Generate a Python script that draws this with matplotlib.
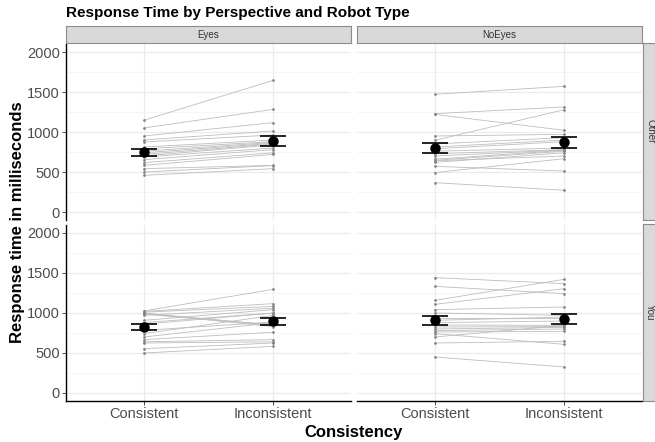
import matplotlib
matplotlib.use("Agg")
import numpy as np
from matplotlib import pyplot as plt

plt.rcParams['font.family'] = ['Liberation Sans', 'DejaVu Sans']

# Categories / facets
conditions = ["Consistent", "Inconsistent"]
robot_types = ["Eyes", "NoEyes"]
perspectives = ["Other", "You"]
y_ticks = [0, 500, 1000, 1500, 2000]

# Per-participant response times (ms)
eyes_other_cons = [1146, 1050, 950, 900, 875, 812, 790, 760, 740, 720, 700, 688, 654, 617, 583, 542, 500, 458]
eyes_other_inc = [1646, 1283, 1117, 1013, 963, 900, 880, 870, 860, 850, 840, 800, 780, 740, 720, 583, 580, 542]

noeyes_other_cons = [1471, 1229, 1220, 896, 950, 850, 812, 790, 760, 729, 700, 660, 646, 620, 571, 492, 367, 640]
noeyes_other_inc = [1571, 1313, 1021, 1279, 971, 930, 900, 880, 800, 780, 775, 771, 760, 740, 512, 667, 271, 700]

eyes_you_cons = [1025, 1020, 1010, 1000, 995, 985, 971, 908, 880, 783, 742, 700, 667, 640, 625, 554, 500, 860]
eyes_you_inc = [1296, 1117, 1083, 850, 830, 850, 1060, 1042, 1000, 888, 970, 880, 760, 667, 640, 625, 583, 1000]

noeyes_you_cons = [1442, 1333, 1158, 1108, 1042, 1000, 930, 908, 880, 850, 825, 800, 780, 763, 742, 700, 625, 450]
noeyes_you_inc = [1367, 1242, 1421, 1304, 1075, 971, 929, 950, 900, 846, 830, 820, 800, 771, 608, 846, 646, 325]

panels = {
    ("Other", "Eyes"): (eyes_other_cons, eyes_other_inc),
    ("Other", "NoEyes"): (noeyes_other_cons, noeyes_other_inc),
    ("You", "Eyes"): (eyes_you_cons, eyes_you_inc),
    ("You", "NoEyes"): (noeyes_you_cons, noeyes_you_inc),
}

W, H = 655, 442
fig = plt.figure(figsize=(W / 100, H / 100), dpi=100)

# panel boxes in pixels: (left, top, width, height)
col_left = [66, 357]
row_top = [44, 225]
pw, ph = 285, 176

strip_bg = "#D9D9D9"
strip_edge = "#8C8C8C"

for r, persp in enumerate(perspectives):
    for c, rtype in enumerate(robot_types):
        x0, y0 = col_left[c], row_top[r]
        ax = fig.add_axes([x0 / W, 1 - (y0 + ph) / H, pw / W, ph / H])
        cons, inc = panels[(persp, rtype)]
        xs = np.array([1, 2])

        # grid
        ax.set_yticks(y_ticks)
        ax.set_yticks([250, 750, 1250, 1750], minor=True)
        ax.grid(True, which="major", color="#EBEBEB", lw=0.9, zorder=0)
        ax.grid(True, which="minor", axis="y", color="#F2F2F2", lw=0.5, zorder=0)
        ax.set_axisbelow(True)

        # participant lines
        for a, b in zip(cons, inc):
            ax.plot(xs, [a, b], color="#BDBDBD", lw=0.6, zorder=2)
            ax.plot(xs, [a, b], "o", color="#808080", ms=0.9, zorder=2)

        # means +/- SE
        for xi, vals in zip(xs, [cons, inc]):
            v = np.array(vals, dtype=float)
            m = v.mean()
            se = v.std(ddof=1) / np.sqrt(len(v))
            ax.vlines(xi, m - se, m + se, color="black", lw=1.0, zorder=4)
            ax.hlines([m - se, m + se], xi - 0.1, xi + 0.1, color="black", lw=1.2, zorder=4)
            ax.plot(xi, m, "o", color="black", ms=6.5, zorder=5)

        ax.set_xlim(0.4, 2.6)
        ax.set_ylim(-100, 2100)
        ax.set_xticks(xs)

        for s in ax.spines.values():
            s.set_visible(False)
        ax.tick_params(axis="both", which="minor", length=0)
        if c == 0:
            ax.spines["left"].set_visible(True)
            ax.spines["left"].set_color("black")
            ax.spines["left"].set_linewidth(1.0)
            ax.tick_params(axis="y", length=3, width=0.6, color="#333333",
                           labelsize=10.5, labelcolor="#4D4D4D", pad=1.5)
        else:
            ax.tick_params(axis="y", length=0, labelleft=False)
        if r == 1:
            ax.spines["bottom"].set_visible(True)
            ax.spines["bottom"].set_color("black")
            ax.spines["bottom"].set_linewidth(1.0)
            ax.set_xticklabels(conditions)
            ax.tick_params(axis="x", length=3, width=0.6, color="#333333",
                           labelsize=10.5, labelcolor="#4D4D4D", pad=1.5)
        else:
            ax.tick_params(axis="x", length=0, labelbottom=False)

        # top strips
        if r == 0:
            sax = fig.add_axes([x0 / W, 1 - 43 / H, pw / W, 17 / H])
            sax.set_facecolor(strip_bg)
            sax.set_xticks([])
            sax.set_yticks([])
            for s in sax.spines.values():
                s.set_color(strip_edge)
                s.set_linewidth(0.8)
            sax.text(0.5, 0.5, rtype, ha="center", va="center", fontsize=7,
                     color="#333333", transform=sax.transAxes)
        # right strips
        if c == 1:
            sax = fig.add_axes([643 / W, 1 - (y0 + ph) / H, 13 / W, (ph + 1) / H])
            sax.set_facecolor(strip_bg)
            sax.set_xticks([])
            sax.set_yticks([])
            for s in sax.spines.values():
                s.set_color(strip_edge)
                s.set_linewidth(0.8)
            sax.text(0.55, 0.5, persp, ha="center", va="center", fontsize=7,
                     color="#333333", rotation=-90, transform=sax.transAxes)

fig.text(66 / W, 1 - 13 / H, "Response Time by Perspective and Robot Type",
         fontsize=11, fontweight="bold", ha="left", va="center")
fig.text(354 / W, 1 - 432 / H, "Consistency", fontsize=12, fontweight="bold",
         ha="center", va="center")
fig.text(18 / W, 1 - 222 / H, "Response time in milliseconds", fontsize=12,
         fontweight="bold", ha="center", va="center", rotation=90)

fig.savefig("out.png", dpi=100)
